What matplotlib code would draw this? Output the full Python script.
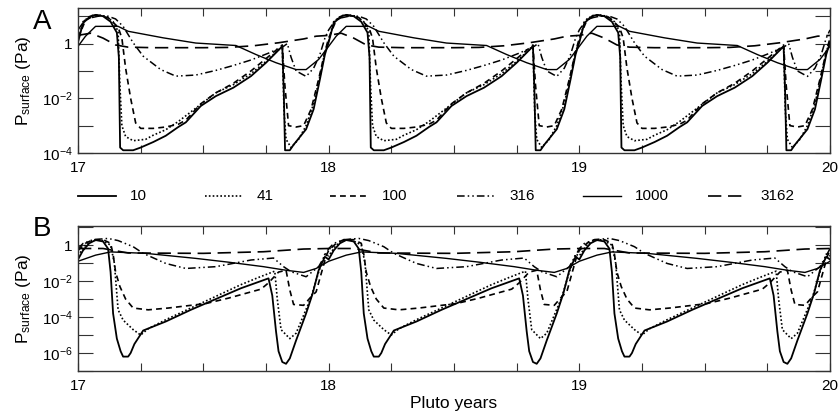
import numpy as np
import matplotlib
matplotlib.use('Agg')
import matplotlib.pyplot as plt
from matplotlib.ticker import LogLocator, FixedLocator, FuncFormatter, MultipleLocator, NullFormatter

plt.rcParams['font.family'] = ['Liberation Sans', 'DejaVu Sans']
plt.rcParams['mathtext.fontset'] = 'custom'
plt.rcParams['mathtext.rm'] = 'Liberation Sans'
plt.rcParams['mathtext.it'] = 'Liberation Sans:italic'

# the seasonal cycle repeats every Pluto year; values read for one year (phase 0..1)
years = [17, 18, 19]
labels = ['10', '41', '100', '316', '1000', '3162']

# ---- panel A : log10 P (Pa) vs phase of year
a_ph_10 = [0.00, 0.02, 0.05, 0.07, 0.10, 0.13, 0.155, 0.163, 0.168, 0.18, 0.22, 0.25, 0.30, 0.35, 0.40,
           0.43, 0.49, 0.55, 0.62, 0.69, 0.75, 0.815, 0.821, 0.826, 0.845, 0.86, 0.91, 0.94, 0.965, 0.985]
a_lp_10 = [0.05, 0.75, 1.0, 1.05, 1.0, 0.8, 0.4, -0.5, -3.8, -3.9, -3.9, -3.8, -3.6, -3.37, -3.05,
           -2.88, -2.28, -1.92, -1.61, -1.19, -0.7, -0.1, -1.8, -3.9, -3.9, -3.7, -3.13, -2.4, -1.31, -0.4]
a_ph_41 = [0.00, 0.02, 0.05, 0.08, 0.11, 0.14, 0.16, 0.167, 0.175, 0.19, 0.22, 0.27, 0.30, 0.35, 0.40,
           0.45, 0.50, 0.55, 0.62, 0.69, 0.75, 0.815, 0.822, 0.83, 0.85, 0.88, 0.91, 0.94, 0.965, 0.985]
a_lp_41 = [0.1, 0.8, 1.02, 1.05, 1.0, 0.8, 0.45, -1.5, -3.0, -3.4, -3.55, -3.5, -3.35, -3.15, -2.85,
           -2.5, -2.15, -1.8, -1.5, -1.1, -0.65, -0.1, -2.5, -3.5, -3.8, -3.5, -3.0, -2.2, -1.2, -0.3]
a_ph_100 = [0.00, 0.03, 0.07, 0.12, 0.16, 0.175, 0.19, 0.21, 0.23, 0.25, 0.30, 0.35, 0.40, 0.43, 0.49,
            0.55, 0.62, 0.69, 0.75, 0.815, 0.825, 0.84, 0.87, 0.90, 0.93, 0.96, 0.985]
a_lp_100 = [0.2, 0.85, 1.05, 0.95, 0.6, 0.2, -0.9, -2.0, -2.9, -3.1, -3.1, -3.05, -2.95, -2.8, -2.2,
            -1.8, -1.45, -1.0, -0.55, -0.05, -1.5, -3.0, -3.05, -3.0, -2.4, -1.3, -0.3]
a_ph_316 = [0.00, 0.03, 0.08, 0.12, 0.15, 0.18, 0.22, 0.26, 0.33, 0.39, 0.47, 0.55, 0.62, 0.69, 0.76,
            0.82, 0.835, 0.85, 0.87, 0.91, 0.94, 0.965, 0.985]
a_lp_316 = [0.5, 0.9, 1.0, 1.0, 0.9, 0.63, 0.03, -0.46, -0.95, -1.19, -1.15, -0.98, -0.8, -0.6, -0.35,
            -0.1, 0.0, -0.5, -1.0, -1.2, -0.9, -0.4, 0.2]
a_ph_1000 = [0.00, 0.03, 0.07, 0.16, 0.20, 0.34, 0.47, 0.63, 0.71, 0.79, 0.87, 0.91, 0.96]
a_lp_1000 = [-0.1, 0.27, 0.63, 0.63, 0.45, 0.21, 0.02, -0.07, -0.4, -0.7, -0.95, -0.95, -0.58]
a_ph_3162 = [0.00, 0.05, 0.10, 0.15, 0.20, 0.30, 0.50, 0.60, 0.70, 0.80, 0.90, 0.95]
a_lp_3162 = [0.3, 0.38, 0.2, -0.05, -0.13, -0.15, -0.15, -0.14, -0.08, 0.03, 0.17, 0.27]

# ---- panel B
b_ph_10 = [0.00, 0.02, 0.045, 0.07, 0.10, 0.12, 0.13, 0.14, 0.155, 0.17, 0.18, 0.20, 0.21, 0.225, 0.26,
           0.35, 0.45, 0.55, 0.65, 0.76, 0.775, 0.79, 0.80, 0.815, 0.83, 0.845, 0.87, 0.91, 0.936, 0.96, 0.985]
b_lp_10 = [-0.8, -0.3, 0.1, 0.28, 0.2, -0.2, -1.5, -3.8, -5.2, -5.9, -6.2, -6.2, -6.0, -5.5, -4.75,
           -4.25, -3.6, -3.0, -2.4, -1.85, -2.8, -4.8, -5.9, -6.5, -6.6, -6.3, -5.3, -3.8, -2.7, -1.4, -0.65]
b_ph_41 = [0.00, 0.03, 0.06, 0.09, 0.13, 0.145, 0.16, 0.18, 0.22, 0.25, 0.28, 0.35, 0.45, 0.55, 0.65,
           0.72, 0.785, 0.795, 0.81, 0.845, 0.87, 0.90, 0.93, 0.96, 0.985]
b_lp_41 = [-0.6, 0.0, 0.25, 0.3, 0.0, -1.0, -3.6, -4.17, -4.7, -5.0, -4.65, -4.15, -3.5, -2.85, -2.2,
           -1.8, -1.45, -3.0, -4.7, -5.2, -4.9, -3.9, -2.9, -1.5, -0.5]
b_ph_100 = [0.00, 0.03, 0.06, 0.10, 0.13, 0.14, 0.15, 0.167, 0.19, 0.22, 0.28, 0.36, 0.51, 0.60, 0.73,
            0.76, 0.80, 0.83, 0.845, 0.86, 0.90, 0.93, 0.95, 0.97, 0.99]
b_lp_100 = [-0.3, 0.1, 0.3, 0.3, 0.1, -0.5, -1.5, -2.3, -3.0, -3.5, -3.6, -3.5, -3.25, -2.95, -2.45,
            -2.1, -1.5, -1.4, -2.5, -3.3, -3.35, -2.87, -2.6, -1.6, -0.6]
b_ph_316 = [0.00, 0.02, 0.06, 0.12, 0.16, 0.22, 0.26, 0.35, 0.43, 0.55, 0.69, 0.78, 0.82, 0.85, 0.91, 0.96, 0.99]
b_lp_316 = [-0.2, 0.09, 0.3, 0.37, 0.25, -0.09, -0.46, -1.02, -1.3, -1.2, -0.83, -0.72, -1.2, -1.48, -1.76, -1.2, -0.46]
b_ph_1000 = [0.00, 0.07, 0.13, 0.27, 0.47, 0.60, 0.74, 0.83, 0.90, 0.95]
b_lp_1000 = [-0.9, -0.56, -0.38, -0.46, -0.74, -0.95, -1.2, -1.4, -1.52, -1.3]
b_ph_3162 = [0.00, 0.10, 0.20, 0.50, 0.74, 0.90]
b_lp_3162 = [-0.19, -0.19, -0.44, -0.46, -0.37, -0.22]

# labelled y ticks of each panel
a_yticks = [1e-4, 1e-2, 1]
b_yticks = [1e-6, 1e-4, 1e-2, 1]

panel_a = [(a_ph_10, a_lp_10), (a_ph_41, a_lp_41), (a_ph_100, a_lp_100),
           (a_ph_316, a_lp_316), (a_ph_1000, a_lp_1000), (a_ph_3162, a_lp_3162)]
panel_b = [(b_ph_10, b_lp_10), (b_ph_41, b_lp_41), (b_ph_100, b_lp_100),
           (b_ph_316, b_lp_316), (b_ph_1000, b_lp_1000), (b_ph_3162, b_lp_3162)]

styles = [dict(ls='-', lw=1.3),
          dict(ls=(0, (1, 1.3)), lw=1.2),
          dict(ls=(0, (3.5, 2.5)), lw=1.2),
          dict(ls=(0, (5, 2, 1, 2, 1, 2)), lw=1.1),
          dict(ls='-', lw=1.0),
          dict(ls=(0, (8, 4)), lw=1.2)]


def repeat_years(ph, lp):
    t = np.concatenate([yr + np.asarray(ph) for yr in years] + [[years[-1] + 1 + ph[0]]])
    p = 10.0 ** np.concatenate([lp] * len(years) + [[lp[0]]])
    return t, p


def ylab(v, pos):
    e = int(round(np.log10(v)))
    if e == 0:
        return '1'
    return r'$\mathregular{10^{%d}}$' % e


W, H = 840, 420
fig = plt.figure(figsize=(8.4, 4.2), dpi=100)
axA = fig.add_axes([78 / W, 1 - 153 / H, 752 / W, 145 / H])
axB = fig.add_axes([78 / W, 1 - 371 / H, 752 / W, 145 / H])

for ax, panel, ylim, yt in [(axA, panel_a, (1e-4, 20), a_yticks), (axB, panel_b, (1e-7, 11.5), b_yticks)]:
    for (ph, lp), st in zip(panel, styles):
        t, p = repeat_years(ph, lp)
        ax.plot(t, p, color='black', **st)
    ax.set_yscale('log')
    ax.set_xlim(17, 20)
    ax.set_ylim(*ylim)
    ax.xaxis.set_major_locator(MultipleLocator(1))
    ax.xaxis.set_minor_locator(MultipleLocator(0.25))
    ax.xaxis.set_major_formatter(FuncFormatter(lambda v, pos: '%d' % round(v)))
    # labels every second decade, ticks every decade
    ax.yaxis.set_major_locator(FixedLocator(yt))
    ax.yaxis.set_minor_locator(LogLocator(base=10, subs=(1.0,), numticks=20))
    ax.yaxis.set_major_formatter(FuncFormatter(ylab))
    ax.yaxis.set_minor_formatter(NullFormatter())
    ax.tick_params(which='both', direction='in', top=True, right=True, labelsize=11, color='#333333')
    ax.tick_params(axis='x', which='both', length=6, width=0.8, pad=6)
    ax.tick_params(axis='y', which='both', length=11, width=0.8, pad=4)
    for s in ax.spines.values():
        s.set_linewidth(1.0)
        s.set_color('#333333')
    ax.set_ylabel(r'$\mathregular{P_{surface}}$ (Pa)', fontsize=12.5)
    ax.yaxis.set_label_coords(-0.06, 0.5)

axB.set_xlabel('Pluto years', fontsize=12.5, labelpad=2)

# legend row between the panels (pixel layout)
lax = fig.add_axes([0, 0, 1, 1], zorder=-1)
lax.set_xlim(0, W)
lax.set_ylim(H, 0)
lax.axis('off')
leg_x = [78, 205, 330, 457, 583, 708]
for x0, lab, st in zip(leg_x, labels, styles):
    lax.plot([x0, x0 + 38], [196, 196], color='black', **st)
    lax.text(x0 + 52, 196, lab, fontsize=11, va='center', ha='left')

fig.text(42 / W, 1 - 22 / H, 'A', fontsize=20, ha='center', va='center')
fig.text(42 / W, 1 - 229 / H, 'B', fontsize=20, ha='center', va='center')

fig.savefig('out.png', dpi=100)
